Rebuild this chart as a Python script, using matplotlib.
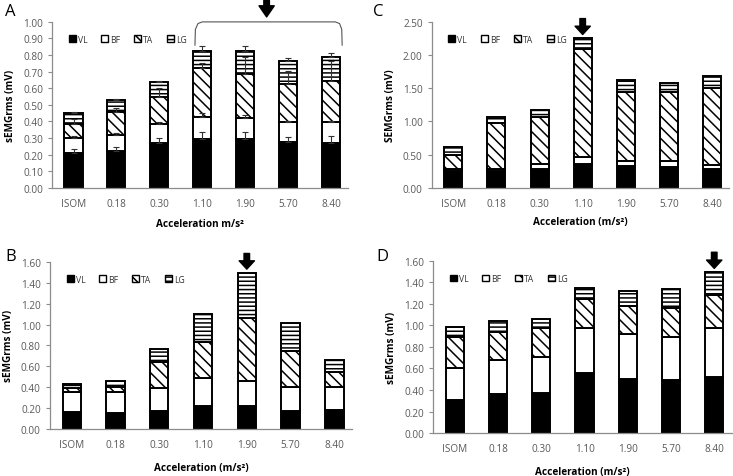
import matplotlib
matplotlib.use("Agg")
import matplotlib.pyplot as plt
import numpy as np
from matplotlib.patches import Patch

plt.rcParams['font.family'] = ['Open Sans', 'DejaVu Sans']
plt.rcParams['hatch.linewidth'] = 1.1
plt.rcParams['hatch.color'] = 'black'

cats = ['ISOM', '0.18', '0.30', '1.10', '1.90', '5.70', '8.40']
muscles = ['VL', 'BF', 'TA', 'LG']

# segment heights (stacked VL, BF, TA, LG)
a_vl = [0.21, 0.22, 0.27, 0.295, 0.295, 0.275, 0.27]
a_bf = [0.09, 0.10, 0.115, 0.135, 0.125, 0.12, 0.125]
a_ta = [0.085, 0.14, 0.165, 0.29, 0.265, 0.23, 0.25]
a_lg = [0.065, 0.07, 0.09, 0.105, 0.14, 0.14, 0.145]
a_vl_err = [0.025, 0.025, 0.03, 0.04, 0.04, 0.03, 0.04]
a_bf_err = [0.01, 0.01, 0.01, 0.02, 0.02, 0.01, 0.01]
a_ta_err = [0.03, 0.02, 0.05, 0.03, 0.105, 0.08, 0.12]
a_lg_err = [0.005, 0.005, 0.005, 0.03, 0.03, 0.015, 0.02]

b_vl = [0.16, 0.15, 0.17, 0.22, 0.22, 0.17, 0.18]
b_bf = [0.19, 0.20, 0.22, 0.265, 0.24, 0.23, 0.22]
b_ta = [0.04, 0.05, 0.255, 0.35, 0.605, 0.35, 0.15]
b_lg = [0.04, 0.06, 0.125, 0.265, 0.43, 0.265, 0.11]

c_vl = [0.26, 0.26, 0.28, 0.36, 0.33, 0.32, 0.29]
c_bf = [0.03, 0.03, 0.08, 0.11, 0.08, 0.09, 0.05]
c_ta = [0.21, 0.68, 0.71, 1.62, 1.04, 1.04, 1.16]
c_lg = [0.11, 0.10, 0.11, 0.16, 0.17, 0.13, 0.18]

d_vl = [0.31, 0.36, 0.37, 0.555, 0.50, 0.49, 0.525]
d_bf = [0.29, 0.32, 0.34, 0.425, 0.42, 0.405, 0.455]
d_ta = [0.29, 0.26, 0.265, 0.27, 0.26, 0.27, 0.305]
d_lg = [0.10, 0.10, 0.085, 0.10, 0.14, 0.17, 0.21]

styles = [dict(color='black', hatch=None),
          dict(color='white', hatch=None),
          dict(color='white', hatch='\\\\\\'),
          dict(color='white', hatch='----')]

gray = '#595959'


def panel(ax, series, ymax, ystep, ylabel, xlabel, errs=None, xlabelpad=4):
    x = np.arange(len(cats))
    bottom = np.zeros(len(cats))
    for i, vals in enumerate(series):
        vals = np.array(vals)
        ax.bar(x, vals, 0.42, bottom=bottom, color=styles[i]['color'],
               hatch=styles[i]['hatch'], edgecolor='black', linewidth=1.4, zorder=2)
        bottom = bottom + vals
        if errs is not None:
            ax.errorbar(x, bottom, yerr=[np.zeros(len(cats)), errs[i]], fmt='none',
                        ecolor='#333333', elinewidth=0.8, capsize=2.5, capthick=0.8, zorder=3)
    ax.set_xlim(-0.5, 6.4)
    ax.set_ylim(0, ymax)
    ax.set_yticks(np.arange(0, ymax + ystep / 2, ystep))
    ax.yaxis.set_major_formatter(matplotlib.ticker.FormatStrFormatter('%.2f'))
    ax.set_xticks(x)
    ax.set_xticklabels(cats)
    for s in ['top', 'right']:
        ax.spines[s].set_visible(False)
    for s in ['left', 'bottom']:
        ax.spines[s].set_color('#8c8c8c')
        ax.spines[s].set_linewidth(0.9)
    ax.tick_params(axis='y', colors='#8c8c8c', labelcolor=gray, labelsize=7.2,
                   length=3, width=0.8)
    ax.tick_params(axis='x', length=0, labelcolor=gray, labelsize=7.2, pad=7)
    ax.set_ylabel(ylabel, fontsize=7.2, fontweight='bold', labelpad=5)
    ax.set_xlabel(xlabel, fontsize=7.2, fontweight='bold', labelpad=xlabelpad)
    handles = [Patch(facecolor=st['color'], edgecolor='black', hatch=st['hatch'],
                     linewidth=1.0) for st in styles]
    ax.legend(handles, muscles, loc='upper left', bbox_to_anchor=(0.03, 0.97), ncol=4,
              frameon=False, fontsize=6.2, handlelength=0.8, handleheight=0.8,
              handletextpad=0.25, columnspacing=1.6, labelcolor='#333333')


def arrow(ax, x, y_tail, y_tip, head=6):
    ax.annotate('', xy=(x, y_tip), xytext=(x, y_tail), annotation_clip=False,
                arrowprops=dict(facecolor='black', edgecolor='black', width=4,
                                headwidth=11, headlength=head, shrink=0))


fig = plt.figure(figsize=(7.33, 4.77), dpi=100)
axA = fig.add_axes([0.071, 0.604, 0.404, 0.348])
axC = fig.add_axes([0.589, 0.604, 0.406, 0.348])
axB = fig.add_axes([0.068, 0.0985, 0.412, 0.3505])
axD = fig.add_axes([0.591, 0.090, 0.407, 0.361])

panel(axA, [a_vl, a_bf, a_ta, a_lg], 1.0, 0.1, 'sEMGrms (mV)', 'Acceleration m/s²',
      errs=[a_vl_err, a_bf_err, a_ta_err, a_lg_err], xlabelpad=7)
panel(axC, [c_vl, c_bf, c_ta, c_lg], 2.5, 0.5, 'SEMGrms (mV)', 'Acceleration (m/s²)',
      xlabelpad=5)
panel(axB, [b_vl, b_bf, b_ta, b_lg], 1.6, 0.2, 'sEMGrms (mV)', 'Acceleration (m/s²)',
      xlabelpad=9)
panel(axD, [d_vl, d_bf, d_ta, d_lg], 1.6, 0.2, 'sEMGrms (mV)', 'Acceleration (m/s²)',
      xlabelpad=9)

arrow(axA, 4.5, 1.15, 1.03, head=8)
arrow(axC, 3, 2.55, 2.31)
arrow(axB, 4, 1.68, 1.53)
arrow(axD, 6, 1.68, 1.53)

# bracket over the last four bars in panel A
bx = [2.83, 2.84, 2.90, 3.0, 6.1, 6.2, 6.25, 6.26]
by = [0.86, 0.955, 0.99, 1.0, 1.0, 0.99, 0.955, 0.86]
axA.plot(bx, by, color='#555555', linewidth=0.8, clip_on=False)

for lab, (px, py) in zip('ABCD', [(5, 12), (5, 257), (373, 12), (376, 257)]):
    fig.text(px / 733, 1 - py / 477, lab, fontsize=12, va='center', ha='left')

fig.savefig('out.png', dpi=100)
